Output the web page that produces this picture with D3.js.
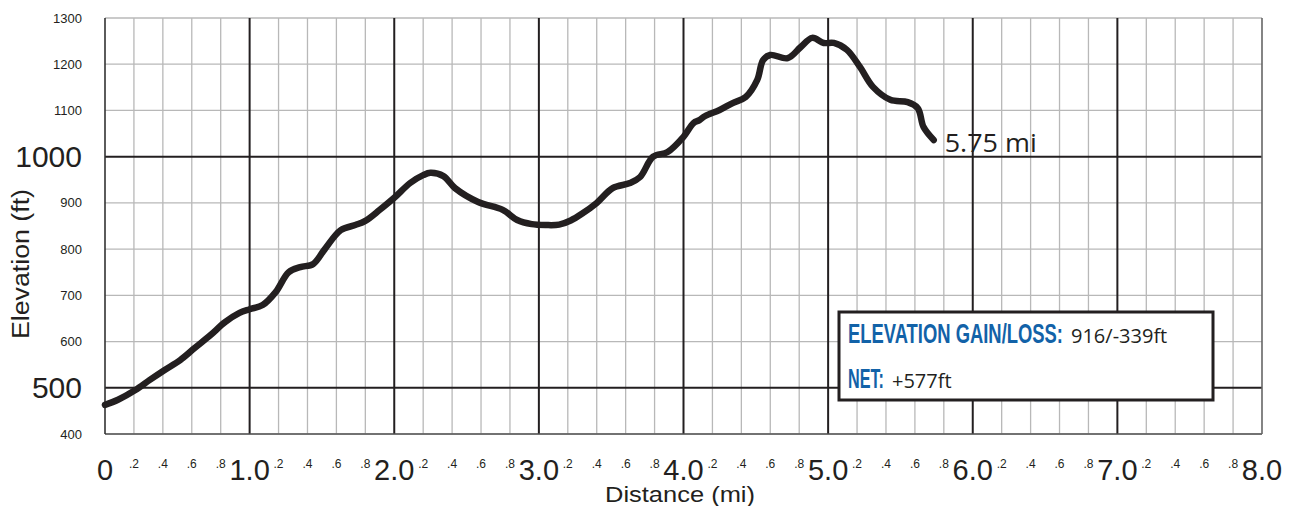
<!DOCTYPE html>
<html>
<head>
<meta charset="utf-8">
<script src="https://cdn.jsdelivr.net/npm/d3@7"></script>
<style>
  body { margin: 0; background: white; }
</style>
</head>
<body>
<div id="chart"></div>
<script>
// trail profile
const distance = [0, 0.09, 0.21, 0.31, 0.41, 0.52, 0.62, 0.73, 0.83, 0.93, 1.0, 1.09, 1.18, 1.27, 1.35, 1.44,
    1.52, 1.63, 1.73, 1.80, 1.90, 2.0, 2.11, 2.20, 2.25, 2.34, 2.42, 2.58, 2.75, 2.85, 2.95, 3.05, 3.14, 3.22, 3.30,
    3.40, 3.51, 3.63, 3.70, 3.79, 3.89, 4.0, 4.07, 4.11, 4.15, 4.25, 4.34, 4.43, 4.51, 4.55, 4.60, 4.72,
    4.81, 4.89, 4.97, 5.04, 5.13, 5.22, 5.31, 5.43, 5.55, 5.62, 5.66, 5.73]
const elevation = [463, 474, 495, 517, 538, 560, 586, 614, 642, 662, 670, 679, 707, 750, 761, 768,
    800, 841, 852, 861, 885, 911, 943, 960, 965, 958, 932, 902, 885, 863, 854, 852, 853, 862, 877,
    900, 932, 943, 956, 1000, 1010, 1043, 1073, 1079, 1088, 1101, 1116, 1129, 1166, 1209, 1220, 1213,
    1237, 1257, 1246, 1246, 1231, 1194, 1151, 1123, 1118, 1105, 1064, 1036]

const yTicks = [400, 500, 600, 700, 800, 900, 1000, 1100, 1200, 1300]
const yBigTicks = [500, 1000]
const xMajor = [0, 1, 2, 3, 4, 5, 6, 7, 8]
const xMinorLabels = [".2", ".4", ".6", ".8"]
const endLabel = "5.75 mi"
const statsTitle = ["ELEVATION GAIN/LOSS:", "NET:"]
const statsValue = ["916/-339ft", "+577ft"]

const sizing = { width: 1302, height: 506 }
const ink = "#231f20"

const svg = d3.select("#chart").append("svg")
    .attr("width", sizing.width)
    .attr("height", sizing.height)
    .style("font-family", "'Liberation Sans', Arial, sans-serif")

const x = d3.scaleLinear().domain([0, 8]).range([105, 1262])
const y = d3.scaleLinear().domain([400, 1300]).range([434, 18])

// grid
const grid = svg.append("g")
const minorX = d3.range(0, 41).map(i => i / 5).filter(d => Math.abs(d - Math.round(d)) > 1e-6)
grid.selectAll(".vminor").data(minorX).join("line")
    .attr("x1", d => x(d)).attr("x2", d => x(d))
    .attr("y1", y(1300)).attr("y2", y(400))
    .attr("stroke", "#b8b8b8").attr("stroke-width", 1.3)
grid.selectAll(".hminor").data(yTicks.filter(d => !yBigTicks.includes(d))).join("line")
    .attr("x1", x(0)).attr("x2", x(8))
    .attr("y1", d => y(d)).attr("y2", d => y(d))
    .attr("stroke", "#b8b8b8").attr("stroke-width", 1.3)
grid.selectAll(".vmajor").data(xMajor.slice(1, 8)).join("line")
    .attr("x1", d => x(d)).attr("x2", d => x(d))
    .attr("y1", y(1300)).attr("y2", y(400))
    .attr("stroke", ink).attr("stroke-width", 2)
grid.selectAll(".hmajor").data(yBigTicks).join("line")
    .attr("x1", x(0)).attr("x2", x(8))
    .attr("y1", d => y(d)).attr("y2", d => y(d))
    .attr("stroke", ink).attr("stroke-width", 2)
// frame
grid.append("line").attr("x1", x(0)).attr("x2", x(8)).attr("y1", y(400)).attr("y2", y(400))
    .attr("stroke", "#555").attr("stroke-width", 1.6)
grid.append("line").attr("x1", x(8)).attr("x2", x(8)).attr("y1", y(1300)).attr("y2", y(400))
    .attr("stroke", "#666").attr("stroke-width", 1.6)
grid.append("line").attr("x1", x(0)).attr("x2", x(0)).attr("y1", y(1300)).attr("y2", y(400))
    .attr("stroke", "#333").attr("stroke-width", 1.6)

// y labels
svg.append("g").selectAll("text").data(yTicks).join("text")
    .attr("x", 82)
    .attr("y", d => y(d))
    .attr("text-anchor", "end")
    .attr("dominant-baseline", "central")
    .attr("font-size", d => yBigTicks.includes(d) ? 30 : 13)
    .attr("fill", ink)
    .text(d => d)

// x labels
svg.append("g").selectAll("text").data(xMajor).join("text")
    .attr("x", d => x(d))
    .attr("y", 480)
    .attr("text-anchor", "middle")
    .attr("font-size", 29)
    .attr("fill", ink)
    .text(d => d === 0 ? "0" : d.toFixed(1))
const minorLabelData = []
xMajor.slice(0, 8).forEach(m => xMinorLabels.forEach((t, i) => minorLabelData.push({ v: m + (i + 1) * 0.2, t })))
svg.append("g").selectAll("text").data(minorLabelData).join("text")
    .attr("x", d => x(d.v))
    .attr("y", 468)
    .attr("text-anchor", "middle")
    .attr("font-size", 12)
    .attr("fill", ink)
    .text(d => d.t)

// axis titles
svg.append("text")
    .attr("x", 680).attr("y", 502)
    .attr("text-anchor", "middle")
    .attr("font-size", 22)
    .attr("textLength", 150).attr("lengthAdjust", "spacingAndGlyphs")
    .attr("fill", ink)
    .text("Distance (mi)")
svg.append("text")
    .attr("transform", "translate(29,264) rotate(-90)")
    .attr("text-anchor", "middle")
    .attr("font-size", 23)
    .attr("textLength", 150).attr("lengthAdjust", "spacingAndGlyphs")
    .attr("fill", ink)
    .text("Elevation (ft)")

// profile
const profile = distance.map((d, i) => ({ d, e: elevation[i] }))
svg.append("path")
    .datum(profile)
    .attr("d", d3.line().x(p => x(p.d)).y(p => y(p.e)).curve(d3.curveCatmullRom.alpha(0.5)))
    .attr("fill", "none")
    .attr("stroke", ink)
    .attr("stroke-width", 6.5)
    .attr("stroke-linecap", "round")
    .attr("stroke-linejoin", "round")

svg.append("text")
    .attr("x", x(distance[distance.length - 1]) + 11)
    .attr("y", 152)
    .attr("font-family", "'Open Sans', sans-serif")
    .attr("font-size", 26)
    .attr("textLength", 92).attr("lengthAdjust", "spacingAndGlyphs")
    .attr("fill", ink)
    .text(endLabel)

// stats box
const box = svg.append("g")
box.append("rect")
    .attr("x", 839).attr("y", 312).attr("width", 374).attr("height", 88)
    .attr("fill", "white").attr("stroke", ink).attr("stroke-width", 3)
const titleLen = [215, 36]
const valueX = [1071, 892]
const rowY = [343, 388]
statsTitle.forEach((t, i) => {
    // condensed look: squeeze a bold face sideways
    const title = box.append("text")
        .attr("font-size", 28).attr("font-weight", "bold")
        .attr("fill", "#1262a8")
        .text(t)
    const natural = title.node().getComputedTextLength()
    title.attr("transform", `translate(848,${rowY[i]}) scale(${titleLen[i] / natural},1)`)
    box.append("text")
        .attr("x", valueX[i]).attr("y", rowY[i])
        .attr("font-family", "'Open Sans', sans-serif")
        .attr("font-size", 20)
        .attr("fill", ink)
        .text(statsValue[i])
})
</script>
</body>
</html>
